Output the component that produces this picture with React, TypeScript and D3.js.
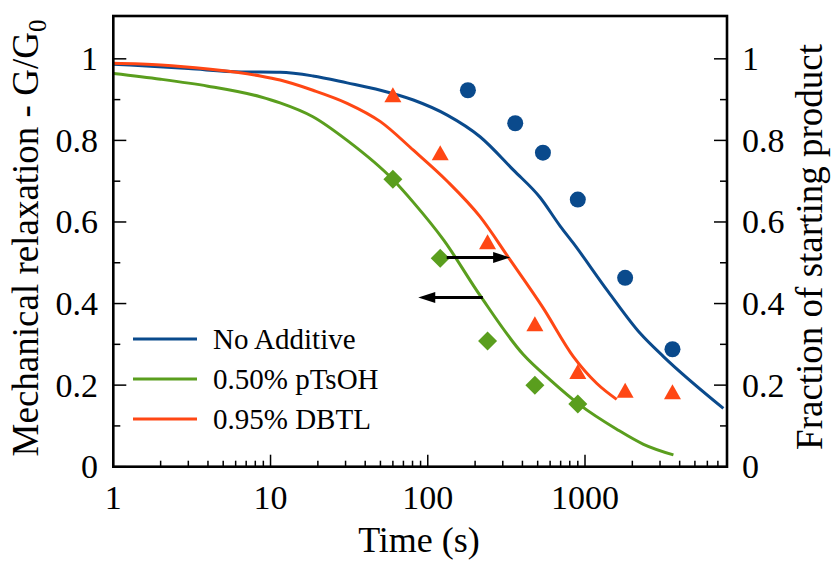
import React from 'react';
import * as d3 from 'd3';

// ---------- data ----------
const xTickValues = [1, 10, 100, 1000];
const yTickValues = [0, 0.2, 0.4, 0.6, 0.8, 1];
const yMinorTickValues = [0.1, 0.3, 0.5, 0.7, 0.9];
const seriesNames = ['No Additive', '0.50% pTsOH', '0.95% DBTL'];
const seriesColors = ['#0a4a8c', '#5a9e1e', '#ff4714'];

// relaxation curves (time s, G/G0)
const noAdditiveTime = [1, 3, 6.5, 11.5, 18.6, 30.7, 50, 81, 133, 215, 351, 518, 695, 843, 1400, 2243, 3155, 7590];
const noAdditiveValue = [0.987, 0.976, 0.968, 0.967, 0.958, 0.941, 0.923, 0.899, 0.862, 0.809, 0.727, 0.66, 0.59, 0.548, 0.43, 0.327, 0.27, 0.143];

const pTsOHTime = [1, 2, 4, 8.6, 11.5, 18.6, 30.7, 60, 81, 126, 215, 405, 600, 931, 1590, 2355, 3650];
const pTsOHValue = [0.964, 0.95, 0.933, 0.907, 0.892, 0.858, 0.8, 0.704, 0.648, 0.556, 0.42, 0.275, 0.213, 0.151, 0.092, 0.055, 0.029];

const dbtlTime = [1, 2, 4, 8.6, 11.5, 18.6, 30.7, 50, 81, 133, 215, 330, 540, 843, 1190, 1590];
const dbtlValue = [0.989, 0.985, 0.975, 0.958, 0.948, 0.923, 0.891, 0.846, 0.776, 0.7, 0.613, 0.51, 0.39, 0.27, 0.204, 0.165];

// fraction of starting product (markers)
const noAdditivePtTime = [180, 360, 540, 900, 1800, 3600];
const noAdditivePtValue = [0.923, 0.842, 0.77, 0.655, 0.463, 0.288];
const pTsOHPtTime = [60, 120, 240, 480, 900];
const pTsOHPtValue = [0.705, 0.511, 0.308, 0.2, 0.154];
const dbtlPtTime = [60, 120, 240, 480, 900, 1800, 3600];
const dbtlPtValue = [0.908, 0.766, 0.548, 0.347, 0.23, 0.184, 0.18];

// arrows [fromTime, toTime, value]
const arrowFrom = [132, 224];
const arrowTo = [334, 87];
const arrowValue = [0.513, 0.415];

export default function App() {
  const W = 833, H = 562;
  const left = 113.3, right = 727, top = 16, bottom = 466.7;
  const x = d3.scaleLog().domain([1, 8000]).range([left, right]);
  const y = d3.scaleLinear().domain([0, 1.105]).range([bottom, top]);

  const line = d3.line<[number, number]>().x(d => x(d[0])).y(d => y(d[1])).curve(d3.curveMonotoneX);
  const zip = (a: number[], b: number[]) => a.map((v, i) => [v, b[i]] as [number, number]);

  const curves = [zip(noAdditiveTime, noAdditiveValue), zip(pTsOHTime, pTsOHValue), zip(dbtlTime, dbtlValue)];

  const xMinor: number[] = [];
  for (const dec of [1, 10, 100, 1000]) for (let k = 2; k <= 9; k++) if (dec * k < 8000) xMinor.push(dec * k);

  const font = 'Liberation Serif, Times New Roman, DejaVu Serif, serif';
  const ts = { fontFamily: font };
  const fmt = (v: number) => String(v);

  const circle = zip(noAdditivePtTime, noAdditivePtValue);
  const diamonds = zip(pTsOHPtTime, pTsOHPtValue);
  const tris = zip(dbtlPtTime, dbtlPtValue);

  return (
    <svg width={W} height={H} style={{ position: 'absolute', left: 0, top: 0, background: '#fff' }}>
      {/* curves */}
      {curves.map((c, i) => (
        <path key={i} d={line(c) || ''} fill="none" stroke={seriesColors[i]} strokeWidth={3} strokeLinejoin="round" />
      ))}
      {/* markers */}
      {circle.map((d, i) => (
        <circle key={'c' + i} cx={x(d[0])} cy={y(d[1])} r={8} fill={seriesColors[0]} />
      ))}
      {diamonds.map((d, i) => {
        const cx = x(d[0]), cy = y(d[1]), s = 9.5;
        return <polygon key={'d' + i} points={`${cx},${cy - s} ${cx + s},${cy} ${cx},${cy + s} ${cx - s},${cy}`} fill={seriesColors[1]} />;
      })}
      {tris.map((d, i) => {
        const cx = x(d[0]), cy = y(d[1]);
        return <polygon key={'t' + i} points={`${cx},${cy - 9} ${cx + 8.5},${cy + 6} ${cx - 8.5},${cy + 6}`} fill={seriesColors[2]} />;
      })}
      {/* arrows */}
      {arrowFrom.map((f, i) => {
        const x0 = x(f), x1 = x(arrowTo[i]), yy = y(arrowValue[i]);
        const dir = x1 > x0 ? 1 : -1;
        const hl = 17, hw = 5.5;
        return (
          <g key={'a' + i}>
            <line x1={x0} y1={yy} x2={x1 - dir * hl * 0.8} y2={yy} stroke="#000" strokeWidth={3} />
            <polygon points={`${x1},${yy} ${x1 - dir * hl},${yy - hw} ${x1 - dir * hl},${yy + hw}`} fill="#000" />
          </g>
        );
      })}
      {/* frame */}
      <rect x={left} y={top} width={right - left} height={bottom - top} fill="none" stroke="#000" strokeWidth={2.6} />
      {/* x ticks */}
      {xTickValues.map(v => (
        <g key={'xt' + v}>
          {v > 1 && <line x1={x(v)} x2={x(v)} y1={bottom} y2={bottom - 12} stroke="#000" strokeWidth={1.5} />}
          <text x={x(v)} y={509} textAnchor="middle" fontSize={34} style={ts}>{v}</text>
        </g>
      ))}
      {xMinor.map(v => (
        <line key={'xm' + v} x1={x(v)} x2={x(v)} y1={bottom} y2={bottom - 6} stroke="#000" strokeWidth={1.5} />
      ))}
      {/* y ticks */}
      {yTickValues.map(v => (
        <g key={'yt' + v}>
          <line x1={left} x2={left + 13} y1={y(v)} y2={y(v)} stroke="#000" strokeWidth={1.5} />
          <line x1={right} x2={right - 13} y1={y(v)} y2={y(v)} stroke="#000" strokeWidth={1.5} />
          <text x={98} y={y(v) + 11.5} textAnchor="end" fontSize={34} style={ts}>{fmt(v)}</text>
          <text x={742} y={y(v) + 11.5} textAnchor="start" fontSize={34} style={ts}>{fmt(v)}</text>
        </g>
      ))}
      {yMinorTickValues.map(v => (
        <g key={'ym' + v}>
          <line x1={left} x2={left + 7} y1={y(v)} y2={y(v)} stroke="#000" strokeWidth={1.5} />
          <line x1={right} x2={right - 7} y1={y(v)} y2={y(v)} stroke="#000" strokeWidth={1.5} />
        </g>
      ))}
      {/* axis titles */}
      <text x={419} y={552} textAnchor="middle" fontSize={36} style={ts}>Time (s)</text>
      <text transform="translate(38,238) rotate(-90)" textAnchor="middle" fontSize={37} style={ts}>
        Mechanical relaxation - G/G<tspan fontSize={25} dy={8}>0</tspan>
      </text>
      <text transform="translate(822,247) rotate(-90)" textAnchor="middle" fontSize={37} style={ts}>Fraction of starting product</text>
      {/* legend */}
      {seriesNames.map((n, i) => {
        const ly = 339 + i * 40;
        return (
          <g key={'lg' + i}>
            <line x1={133} x2={197} y1={ly} y2={ly} stroke={seriesColors[i]} strokeWidth={3} />
            <text x={213} y={ly + 10} fontSize={29} style={ts}>{n}</text>
          </g>
        );
      })}
    </svg>
  );
}
